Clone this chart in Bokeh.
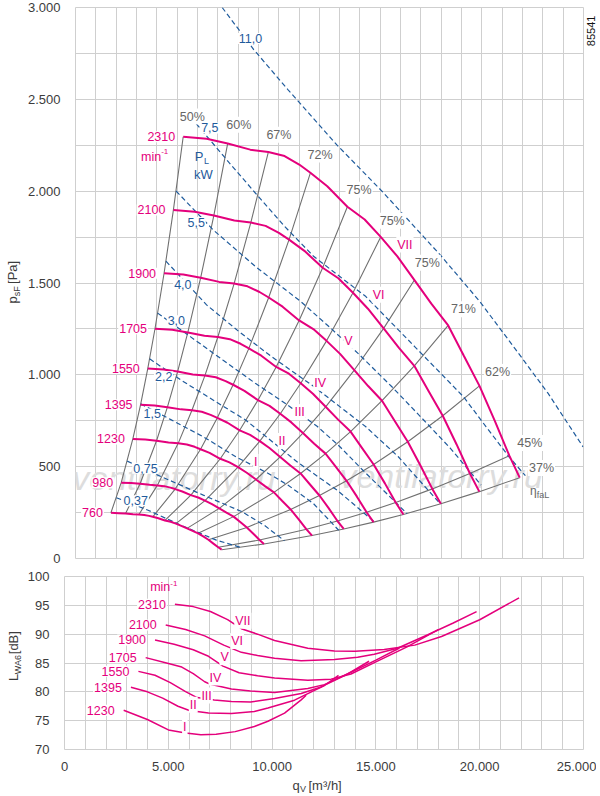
import math
from bokeh.plotting import figure
from bokeh.models import FixedTicker, Label
from bokeh.layouts import column, row
from bokeh.embed import file_html
from bokeh.resources import INLINE
from bokeh.core.properties import value

FONT = "Liberation Sans"
MAG = "#e4007c"
GRAYL = "#707070"
BLUE = "#1f5b9c"
GRID = "#cfcfcf"
TXT = "#3c3c3c"
ETXT = "#666666"

# ---------------- data: fan curves (q in m3/h, p in Pa) ----------------
speeds = [760, 980, 1230, 1395, 1550, 1705, 1900, 2100, 2310]

q_760 = [1744, 2122, 2464, 2829, 3122, 3386, 3622, 3803, 4076, 4402, 4682, 4942, 5208, 5488, 5761, 6034, 6287, 6541, 6787, 7024, 7192]
p_760 = [249, 247, 245, 241, 240, 237, 232, 227, 219, 207, 200, 190, 178, 164, 150, 137, 120, 102, 81, 61, 48]
q_980 = [2249, 2736, 3178, 3649, 4026, 4366, 4671, 4904, 5256, 5676, 6037, 6372, 6716, 7076, 7429, 7781, 8107, 8434, 8752, 9058, 9274]
p_980 = [413, 411, 407, 401, 398, 394, 386, 378, 365, 345, 332, 315, 296, 273, 250, 228, 199, 169, 135, 101, 79]
q_1230 = [2822, 3434, 3988, 4579, 5053, 5479, 5863, 6155, 6597, 7124, 7577, 7998, 8429, 8882, 9324, 9766, 10176, 10586, 10985, 11368, 11640]
p_1230 = [651, 648, 641, 631, 627, 621, 608, 595, 575, 543, 523, 497, 467, 430, 394, 360, 313, 267, 213, 159, 125]
q_1395 = [3201, 3895, 4523, 5194, 5731, 6214, 6649, 6981, 7482, 8080, 8593, 9071, 9560, 10073, 10574, 11076, 11540, 12006, 12458, 12893, 13201]
p_1395 = [837, 833, 824, 812, 807, 799, 782, 766, 739, 698, 673, 639, 600, 553, 506, 463, 403, 343, 274, 204, 161]
q_1550 = [3556, 4328, 5026, 5771, 6368, 6905, 7388, 7757, 8314, 8978, 9548, 10078, 10622, 11192, 11749, 12306, 12823, 13339, 13843, 14326, 14668]
p_1550 = [1034, 1029, 1018, 1002, 996, 987, 966, 946, 913, 862, 831, 788, 741, 683, 625, 571, 497, 423, 338, 252, 198]
q_1705 = [3912, 4761, 5528, 6348, 7005, 7595, 8126, 8532, 9145, 9876, 10503, 11086, 11684, 12311, 12924, 13537, 14105, 14673, 15227, 15758, 16135]
p_1705 = [1251, 1245, 1231, 1213, 1206, 1194, 1169, 1144, 1104, 1043, 1006, 954, 897, 826, 756, 691, 601, 512, 409, 305, 240]
q_1900 = [4359, 5305, 6161, 7074, 7806, 8464, 9056, 9508, 10191, 11005, 11704, 12354, 13020, 13720, 14402, 15085, 15718, 16352, 16968, 17561, 17980]
p_1900 = [1553, 1546, 1529, 1506, 1497, 1482, 1451, 1421, 1371, 1296, 1249, 1185, 1114, 1026, 939, 859, 747, 636, 508, 379, 298]
q_2100 = [4818, 5864, 6809, 7818, 8627, 9355, 10009, 10509, 11264, 12164, 12936, 13655, 14391, 15164, 15918, 16673, 17373, 18073, 18755, 19409, 19873]
p_2100 = [1898, 1888, 1868, 1840, 1829, 1811, 1773, 1736, 1675, 1583, 1526, 1447, 1360, 1253, 1147, 1049, 912, 777, 621, 463, 364]
q_2310 = [5300, 6450, 7490, 8600, 9490, 10290, 11010, 11560, 12390, 13380, 14230, 15020, 15830, 16680, 17510, 18340, 19110, 19880, 20630, 21350, 21860]
p_2310 = [2296, 2285, 2260, 2226, 2213, 2191, 2145, 2100, 2027, 1915, 1846, 1751, 1646, 1516, 1388, 1269, 1104, 940, 751, 560, 440]

curves_q = [q_760, q_980, q_1230, q_1395, q_1550, q_1705, q_1900, q_2100, q_2310]
curves_p = [p_760, p_980, p_1230, p_1395, p_1550, p_1705, p_1900, p_2100, p_2310]

# efficiency lines: point index on each speed curve, and their labels
eff_idx = [0, 2, 4, 7, 9, 11, 13, 15, 17, 19, 20]
eff_text = ["50%", "60%", "67%", "72%", "75%", "75%", "75%", "71%", "62%", "45%", "37%"]
eff_lab_q = [5747, 8040, 10010, 12036, 13955, 15587, 17315, 19093, 20773, 22357, 22933]
eff_lab_p = [2406, 2362, 2307, 2199, 2008, 1839, 1610, 1357, 1016, 629, 493]

# shaft power lines P_L [kW]
pw_text = ["11,0", "7,5", "5,5", "4,0", "3,0", "2,2", "1,5", "0,75", "0,37"]
pw_q = [
    [7219, 8771, 10451, 12851, 15091, 17971, 19890, 21648, 23251, 24979],
    [5938, 7570, 8851, 10291, 11731, 13008, 14290, 16690, 19090, 20208, 21331, 22140],
    [4948, 6768, 8851, 11088, 12600, 13968, 15571, 17170, 18451, 19962],
    [4450, 6451, 8050, 9648, 11731, 14290, 15888, 17953],
    [4043, 5650, 7248, 8851, 10450, 11890, 13000, 14131, 16310],
    [3646, 5170, 6768, 8371, 10930, 12900, 14710],
    [3209, 4690, 6288, 7891, 9490, 10450, 11700, 12950],
    [2546, 4051, 6288, 8208, 9300, 10280],
    [2012, 3572, 5170, 6932, 8117],
]
pw_p = [
    [3000, 2771, 2553, 2253, 1999, 1650, 1400, 1140, 900, 608],
    [2368, 2154, 1990, 1808, 1644, 1535, 1426, 1154, 881, 717, 554, 451],
    [2001, 1790, 1590, 1399, 1250, 1110, 935, 750, 600, 400],
    [1619, 1381, 1235, 1099, 936, 717, 554, 297],
    [1336, 1208, 1081, 954, 835, 720, 610, 482, 245],
    [1087, 973, 863, 754, 524, 370, 199],
    [842, 756, 663, 554, 463, 400, 300, 154],
    [530, 454, 345, 254, 180, 97],
    [331, 263, 182, 100, 61],
]
pw_lab_q = [8611, 6610, 5938, 5282, 4963, 4339, 3778, 3442, 2962]
pw_lab_p = [2831, 2344, 1830, 1494, 1295, 990, 787, 491, 314]

roman = ["I", "II", "III", "IV", "V", "VI", "VII"]
rom_top_q = [8873, 10166, 11030, 12036, 13428, 14916, 16212]
rom_top_p = [526, 640, 797, 957, 1185, 1436, 1709]

# ---------------- data: sound power L_WA6 [dB] ----------------
snd_speeds = [1230, 1395, 1550, 1705, 1900, 2100, 2310]
snd_q_I = [2850, 3993, 5005, 5833, 6569, 7305, 8225, 9145, 9800, 10600, 11400, 11640]
snd_db_I = [76.8, 75.2, 73.4, 72.85, 72.55, 72.65, 73.1, 74.0, 74.9, 76.3, 78.6, 79.4]
snd_q_II = [3200, 3993, 4729, 5465, 6017, 6937, 8041, 9145, 9800, 11080, 11720, 12520, 13200]
snd_db_II = [80.8, 80.0, 78.9, 77.5, 76.75, 76.35, 76.25, 76.6, 77.2, 78.55, 79.7, 81.1, 82.85]
snd_q_III = [3560, 4361, 5097, 5833, 6385, 7213, 8041, 8961, 10120, 11400, 12360, 13640, 14670]
snd_db_III = [83.55, 82.87, 81.6, 80.05, 79.0, 78.6, 78.33, 78.25, 78.85, 79.7, 80.85, 83.1, 85.3]
snd_q_IV = [3910, 4913, 5649, 6201, 6753, 7029, 8041, 8961, 10120, 11720, 12520, 13800, 15000, 16135]
snd_db_IV = [85.93, 85.0, 84.3, 83.15, 81.75, 81.3, 80.5, 80.15, 79.87, 80.56, 81.25, 83.4, 85.5, 87.6]
snd_q_V = [4360, 5281, 6201, 6937, 7636, 8409, 9300, 10120, 11720, 12840, 13800, 15000, 16500, 18000]
snd_db_V = [89.0, 88.26, 87.3, 86.16, 84.46, 83.3, 82.8, 82.4, 82.0, 82.2, 83.1, 85.2, 87.8, 90.8]
snd_q_VI = [4876, 5833, 6753, 7673, 8520, 9300, 10120, 11400, 13000, 14120, 14920, 16040, 17500, 18700, 19850]
snd_db_VI = [91.6, 90.8, 89.7, 88.1, 86.85, 86.3, 85.82, 85.37, 85.6, 86.0, 86.5, 87.55, 89.9, 91.9, 93.9]
snd_q_VII = [5318, 6201, 7029, 7857, 8520, 9300, 10120, 11720, 13000, 14000, 15400, 16873, 18161, 20001, 21896]
snd_db_VII = [95.18, 94.78, 93.93, 92.51, 90.95, 90.0, 88.9, 87.55, 87.1, 87.05, 87.35, 88.1, 89.6, 92.5, 96.3]
snd_q = [snd_q_I, snd_q_II, snd_q_III, snd_q_IV, snd_q_V, snd_q_VI, snd_q_VII]
snd_db = [snd_db_I, snd_db_II, snd_db_III, snd_db_IV, snd_db_V, snd_db_VI, snd_db_VII]
rom_bot_q = [5796, 6201, 6845, 7268, 7710, 8317, 8593]
rom_bot_db = [73.91, 77.77, 79.35, 82.47, 85.99, 88.83, 92.34]

x_ticks = [0, 5000, 10000, 15000, 20000, 25000]
x_tick_labels = ["0", "5.000", "10.000", "15.000", "20.000", "25.000"]
p_ticks = [0, 500, 1000, 1500, 2000, 2500, 3000]
p_tick_labels = ["0", "500", "1.000", "1.500", "2.000", "2.500", "3.000"]
db_ticks = [70, 75, 80, 85, 90, 95, 100]
db_tick_labels = ["70", "75", "80", "85", "90", "95", "100"]


def lab(fig, x, y, text, color, size="12.5px", align="center", baseline="middle",
        bg=False, angle=0.0, xoff=0):
    kw = dict(x=x, y=y, text=text, text_color=color, text_font=FONT,
              text_font_size=size, text_align=align, text_baseline=baseline,
              angle=angle, x_offset=xoff)
    if bg:
        kw["background_fill_color"] = "white"
        kw["padding"] = 1
    fig.add_layout(Label(**kw))


def style_fig(fig, gx, gy):
    fig.background_fill_color = "white"
    fig.border_fill_color = "white"
    fig.outline_line_color = GRID
    fig.xgrid.ticker = FixedTicker(ticks=gx)
    fig.ygrid.ticker = FixedTicker(ticks=gy)
    for g in (fig.xgrid, fig.ygrid):
        g.grid_line_color = GRID
        g.grid_line_width = 1
    for ax in (fig.xaxis, fig.yaxis):
        ax.axis_line_color = None
        ax.major_tick_line_color = None
        ax.minor_tick_line_color = None
        ax.major_label_text_font = FONT
        ax.major_label_text_font_size = "13px"
        ax.major_label_text_color = TXT


def strip(w, h):
    # a blank pixel-unit panel used to hold the axis titles outside the plot frames
    f = figure(width=w, height=h, x_range=(0, w), y_range=(0, h), output_backend="svg",
               toolbar_location=None, title=None, min_border=0)
    f.axis.visible = False
    f.grid.visible = False
    f.outline_line_color = None
    f.background_fill_color = "white"
    f.border_fill_color = "white"
    return f


def stext(f, x, y, text, size, angle=0.0, align="left", color=TXT):
    f.text(x=[x], y=[y], text=[text], text_font=value(FONT), text_font_size=size,
           text_color=color, text_align=align, text_baseline="middle", angle=angle)


# ---------------- top chart ----------------
top = figure(width=560, height=566, x_range=(0, 25000), y_range=(0, 3000),
             output_backend="svg", toolbar_location=None, title=None,
             min_border_left=38, min_border_right=1, min_border_top=7, min_border_bottom=8)
style_fig(top, list(range(0, 25001, 1000)), list(range(0, 3001, 250)))
top.xaxis.visible = False
top.yaxis.ticker = FixedTicker(ticks=p_ticks)
top.yaxis.major_label_overrides = {t: s for t, s in zip(p_ticks, p_tick_labels)}
top.yaxis.major_label_standoff = 9

# watermark
top.text(x=[4846, 17993], y=[436, 447], text=["ventilatorry.ru", "ventilatorry.ru"],
         text_font=value(FONT), text_font_size="34px", text_font_style="italic",
         text_color="#dddddd", text_align="center", text_baseline="middle")

# efficiency lines
for k in eff_idx:
    top.line([cq[k] for cq in curves_q], [cp[k] for cp in curves_p],
             line_color=GRAYL, line_width=1.1)

# power lines
for qs, ps in zip(pw_q, pw_p):
    top.line(qs, ps, line_color=BLUE, line_width=1.2, line_dash="5 3")

# speed curves
for qs, ps in zip(curves_q, curves_p):
    top.line(qs, ps, line_color=MAG, line_width=2)

for t, qx, py in zip(eff_text, eff_lab_q, eff_lab_p):
    lab(top, qx, py, t, ETXT, bg=True)
for t, qx, py in zip(pw_text, pw_lab_q, pw_lab_p):
    lab(top, qx, py, t, BLUE, bg=True)
for t, qx, py in zip(roman, rom_top_q, rom_top_p):
    lab(top, qx, py, t, MAG, bg=True)
for n, qs, ps in zip(speeds, curves_q, curves_p):
    lab(top, qs[0], ps[0], str(n), MAG, align="right", bg=True, xoff=-7)

lab(top, q_2310[0], 2188, "min", MAG, align="right", xoff=-22)
lab(top, q_2310[0], 2216, "-1", MAG, size="8px", align="left", xoff=-22)
lab(top, 6082, 2190, "P", BLUE, size="13px")
lab(top, 6451, 2162, "L", BLUE, size="9px")
lab(top, 6288, 2090, "kW", BLUE, size="13px")
lab(top, 22531, 370, "\u03b7", ETXT, size="12px")
lab(top, 22700, 345, "faL", ETXT, size="9px", align="left")

# y title strip (top) and right strip with drawing number
ytop = strip(24, 566)
stext(ytop, 12, 262, "p", "13px", angle=math.pi / 2)
stext(ytop, 16, 269.5, "sF", "9px", angle=math.pi / 2)
stext(ytop, 12, 282, "[Pa]", "13px", angle=math.pi / 2)
rtop = strip(12, 566)
stext(rtop, 6, 542, "85541", "11px", angle=math.pi / 2, align="center", color="#111111")

# ---------------- bottom chart ----------------
bot = figure(width=572, height=207, x_range=(0, 25000), y_range=(70, 100),
             output_backend="svg", toolbar_location=None, title=None,
             min_border_left=38, min_border_right=13, min_border_top=10, min_border_bottom=22)
style_fig(bot, list(range(0, 25001, 1000)), list(range(70, 101, 5)))
bot.xaxis.ticker = FixedTicker(ticks=x_ticks)
bot.xaxis.major_label_overrides = {t: s for t, s in zip(x_ticks, x_tick_labels)}
bot.xaxis.major_label_standoff = 6
bot.yaxis.ticker = FixedTicker(ticks=db_ticks)
bot.yaxis.major_label_overrides = {t: s for t, s in zip(db_ticks, db_tick_labels)}
bot.yaxis.major_label_standoff = 9

for qs, ds in zip(snd_q, snd_db):
    bot.line(qs, ds, line_color=MAG, line_width=1.5)

for t, qx, dy in zip(roman, rom_bot_q, rom_bot_db):
    lab(bot, qx, dy, t, MAG, bg=True)
for n, qs, ds in zip(snd_speeds, snd_q, snd_db):
    lab(bot, qs[0], ds[0], str(n), MAG, align="right", bg=True, xoff=-8)
lab(bot, 5097, 98.2, "min", MAG, align="right")
lab(bot, 5097, 98.75, "-1", MAG, size="8px", align="left")

ybot = strip(24, 207)
stext(ybot, 13, 82, "L", "13px", angle=math.pi / 2)
stext(ybot, 17, 90, "WA6", "9px", angle=math.pi / 2)
stext(ybot, 13, 114, "[dB]", "13px", angle=math.pi / 2)

xlab = strip(596, 20)
stext(xlab, 292, 8, "q", "13px")
stext(xlab, 299.5, 5, "V", "9px")
stext(xlab, 308, 8, "[m\u00b3/h]", "13px")

layout = column(row(ytop, top, rtop, spacing=0), row(ybot, bot, spacing=0), xlab, spacing=0)
open("out.html", "w").write(file_html(layout, INLINE))
